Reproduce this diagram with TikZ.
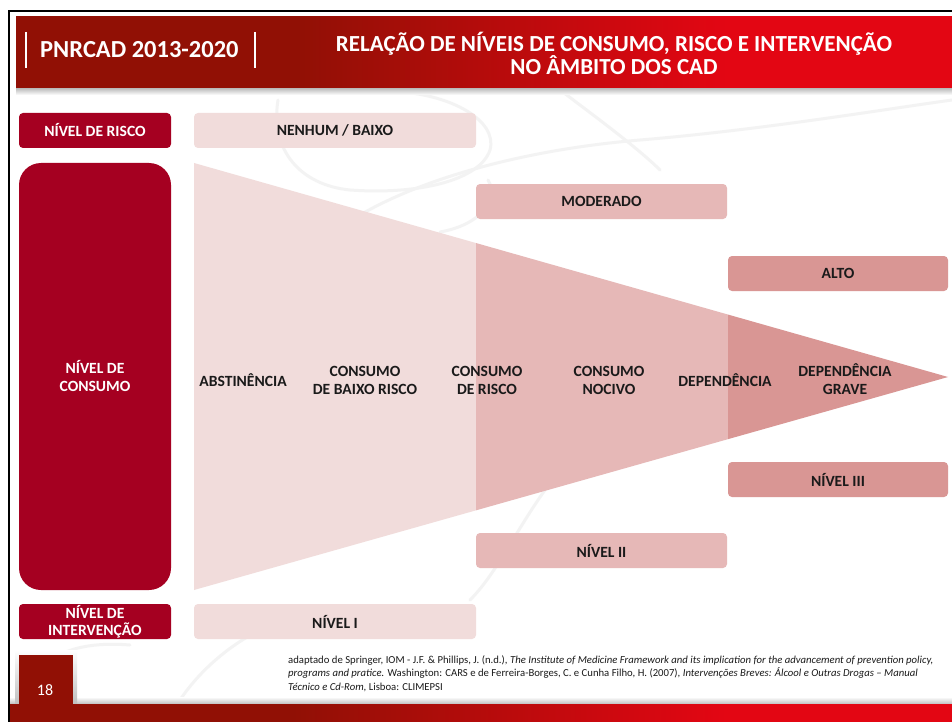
\documentclass[tikz,border=0pt]{standalone}
\usepackage{fontspec}
\setmainfont{Carlito}
\usetikzlibrary{calc}

\definecolor{hdrdark}{HTML}{911005}
\definecolor{hdrred}{HTML}{E30613}
\definecolor{boxdark}{HTML}{A50021}
\definecolor{lvlone}{HTML}{F1DCDB}
\definecolor{lvltwo}{HTML}{E6B8B7}
\definecolor{lvlthree}{HTML}{D99694}
\definecolor{inkdark}{HTML}{1A1A1A}
\definecolor{wmark}{HTML}{F3F3F3}

% horizontal dark-to-bright red gradient for the title and footer bars
\pgfdeclarehorizontalshading{barshade}{100bp}{%
  color(0bp)=(hdrdark); color(40bp)=(hdrdark);
  color(63bp)=(hdrred); color(100bp)=(hdrred)}

\tikzset{
  lbl/.style={font=\bfseries\fontsize{15.6}{18}\selectfont, align=center},
  tag/.style={lbl, rounded corners=4pt, inner sep=0pt,
              minimum height=35pt, text=white, fill=boxdark},
  band/.style={lbl, rounded corners=4pt, inner sep=0pt,
               minimum height=35pt, text=inkdark},
  stage/.style={lbl, text=inkdark},
  wm/.style={draw=wmark, line width=3pt, line cap=round},
}

\begin{document}
\begin{tikzpicture}[x=1pt, y=-1pt]
\useasboundingbox (0,0) rectangle (952,722);
\fill[white] (0,0) rectangle (952,722);

% faint background emblem strokes
\draw[wm] (278,100) .. controls (270,150) and (300,185) .. (350,190)
          .. controls (420,195) and (480,180) .. (490,150)
          .. controls (498,120) and (450,95) .. (400,92);
\draw[wm] (360,215) .. controls (420,180) and (520,150) .. (640,140)
          .. controls (760,130) and (880,110) .. (952,100);
\draw[wm] (440,232) .. controls (480,225) and (500,200) .. (488,180);
\draw[wm] (560,90) .. controls (600,120) and (640,150) .. (660,170);
\draw[wm] (560,470) .. controls (520,520) and (500,570) .. (470,600);
\draw[wm] (35,700) .. controls (30,660) and (70,640) .. (130,645);
\draw[wm] (180,700) .. controls (200,670) and (230,645) .. (260,630);

% page frame
\draw[black, line width=2pt] (9,722) -- (9,11) -- (952,11);

% title bar with its shadow
\shade[top color=gray!55, bottom color=white] (16,88) rectangle (952,95);
\shade[shading=barshade] (16,17) rectangle (952,88);
\draw[white, line width=2pt] (26,32) -- (26,68);
\draw[white, line width=2pt] (255,32) -- (255,68);
\node[anchor=west, text=white, inner sep=0pt,
      font=\bfseries\fontsize{24.5}{26}\selectfont] (prog) at (40,50)
  {PNRCAD 2013-2020};
\node[align=center, text=white, inner sep=0pt,
      font=\bfseries\fontsize{23}{23}\selectfont] (title) at (614,53)
  {RELAÇÃO DE NÍVEIS DE CONSUMO, RISCO E INTERVENÇÃO\\NO ÂMBITO DOS CAD};

% row headers
\node[tag, minimum width=152pt] (hrisk) at (95,130.5) {NÍVEL DE RISCO};
\node[tag, minimum width=152pt, rounded corners=22pt, minimum height=427pt]
  (hcons) at (95,376.5) {NÍVEL DE\\CONSUMO};
\node[tag, minimum width=152pt, font=\bfseries\fontsize{15.6}{17}\selectfont]
  (hint) at (95,621.5) {NÍVEL DE\\INTERVENÇÃO};

% risk bands
\node[band, fill=lvlone, minimum width=282pt] (rlow) at (335,130.5) {NENHUM / BAIXO};
\node[band, fill=lvltwo, minimum width=251pt] (rmod) at (601.5,201.5) {MODERADO};
\node[band, fill=lvlthree, minimum width=220pt] (rhigh) at (838,273.5) {ALTO};

% consumption wedge, shaded in three steps
\begin{scope}
  \clip (194,163) -- (194,590) -- (948,377) -- cycle;
  \fill[lvlone] (194,150) rectangle (476,600);
  \fill[lvltwo] (476,150) rectangle (728,600);
  \fill[lvlthree] (728,150) rectangle (952,600);
\end{scope}

\node[stage] (abst) at (243,380) {ABSTINÊNCIA};
\node[stage] (cbaixo) at (365,380) {CONSUMO\\DE BAIXO RISCO};
\node[stage] (crisco) at (487,380) {CONSUMO\\DE RISCO};
\node[stage] (cnoc) at (609,380) {CONSUMO\\NOCIVO};
\node[stage] (dep) at (725,380) {DEPENDÊNCIA};
\node[stage] (depg) at (845,379) {DEPENDÊNCIA\\GRAVE};

% intervention bands
\node[band, fill=lvlthree, minimum width=220pt] (n3) at (838,479.5) {NÍVEL III};
\node[band, fill=lvltwo, minimum width=251pt] (n2) at (601.5,550.5) {NÍVEL II};
\node[band, fill=lvlone, minimum width=282pt] (n1) at (335,621.5) {NÍVEL I};

% source note
\node[anchor=north west, align=left, inner sep=0pt, text=inkdark,
      font=\fontsize{10.7}{13.5}\selectfont] (src) at (288,655)
  {adaptado de Springer, IOM - J.F. \& Phillips, J. (n.d.), \textit{The Institute of Medicine Framework and its implication for the advancement of prevention policy,}\\
   \textit{programs and pratice.} Washington: CARS e de Ferreira-Borges, C. e Cunha Filho, H. (2007), \textit{Intervenções Breves: Álcool e Outras Drogas – Manual}\\
   \textit{Técnico e Cd-Rom}, Lisboa: CLIMEPSI};

% footer bar and page number
\shade[top color=white, bottom color=gray!50] (10,697) rectangle (952,704);
\shade[top color=white, bottom color=gray!50] (15,650) rectangle (77,704);
\fill[hdrdark] (19,655) rectangle (73,704);
\shade[shading=barshade] (10,704) rectangle (952,722);
\node[text=white, font=\fontsize{16}{18}\selectfont] (page) at (45,690) {18};
\end{tikzpicture}
\end{document}
